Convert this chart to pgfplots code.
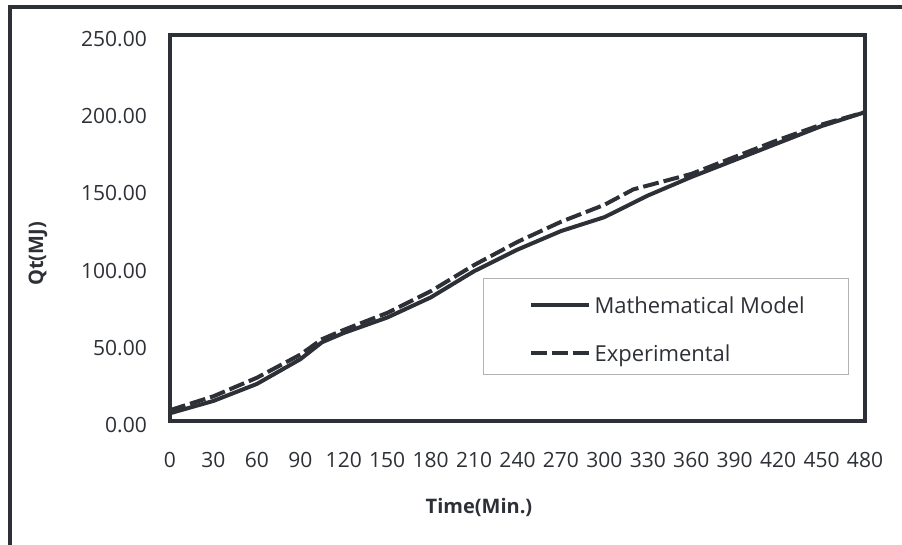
\documentclass[border=0pt]{standalone}
\usepackage{pgfplots}
\pgfplotsset{compat=1.18}
\usepackage{fontspec}
\setmainfont{Open Sans}
\definecolor{dk}{RGB}{45,48,54}
\begin{document}
\begin{tikzpicture}[x=1pt,y=1pt]
\useasboundingbox (0,0) rectangle (902,545);
\draw[line width=4pt, dk] (10,-5) -- (10,538) -- (910,538);
\begin{axis}[
  at={(170pt,124pt)}, anchor=south west,
  scale only axis, width=695pt, height=386pt,
  xmin=0, xmax=480, ymin=0, ymax=250,
  xtick={0,30,...,480}, ytick={0,50,...,250},
  major tick length=0pt,
  axis line style={line width=3.5pt, dk},
  /pgf/number format/assume math mode=true,
  ticklabel style={font=\fontsize{21}{25}\selectfont, text=dk, inner sep=0pt},
  xticklabel style={yshift=-31pt},
  yticklabel style={xshift=-23pt, yshift=-4pt, /pgf/number format/.cd, fixed, fixed zerofill, precision=2},
  xlabel={Time(Min.)}, ylabel={Qt(MJ)},
  label style={font=\bfseries\fontsize{20}{24}\selectfont, text=dk},
  xlabel style={at={(axis description cs:0.4446,-0.2228)}, anchor=center},
  ylabel style={at={(axis description cs:-0.19,0.4326)}, anchor=center, rotate=0},
  legend style={at={(axis description cs:0.4504,0.3705)}, anchor=north west,
    draw=black!30, line width=1pt, inner xsep=0pt, inner ysep=0pt,
    row sep=0pt, column sep=4pt, font=\fontsize{22}{26}\selectfont, text=dk,
    nodes={inner sep=0pt, anchor=west}},
  legend cell align=left,
  legend image code/.code={\draw[#1] (47pt,0pt) -- (105pt,0pt);
     \path[draw=none, fill=none] (0pt,-21pt) rectangle (0pt,27pt);},
]
\addplot[dk, line width=4pt, line join=round] coordinates {
(0,5) (30,13) (60,24) (90,40) (105,51) (120,57) (150,67) (180,80) (210,97)
(240,111) (270,123) (300,132) (330,146) (360,158) (390,169) (420,180) (450,191) (480,200)};
\addlegendentry{Mathematical Model\hspace*{44pt}}
\addplot[dk, line width=4pt, dash pattern=on 16pt off 5pt] coordinates {
(0,7) (30,16) (60,28) (90,43) (105,53) (120,59) (150,70) (180,84) (210,101)
(240,116) (270,129) (300,140) (320,150) (340,155) (360,160) (390,171) (420,182) (450,192) (480,200)};
\addlegendentry{Experimental}
\end{axis}
\end{tikzpicture}
\end{document}
